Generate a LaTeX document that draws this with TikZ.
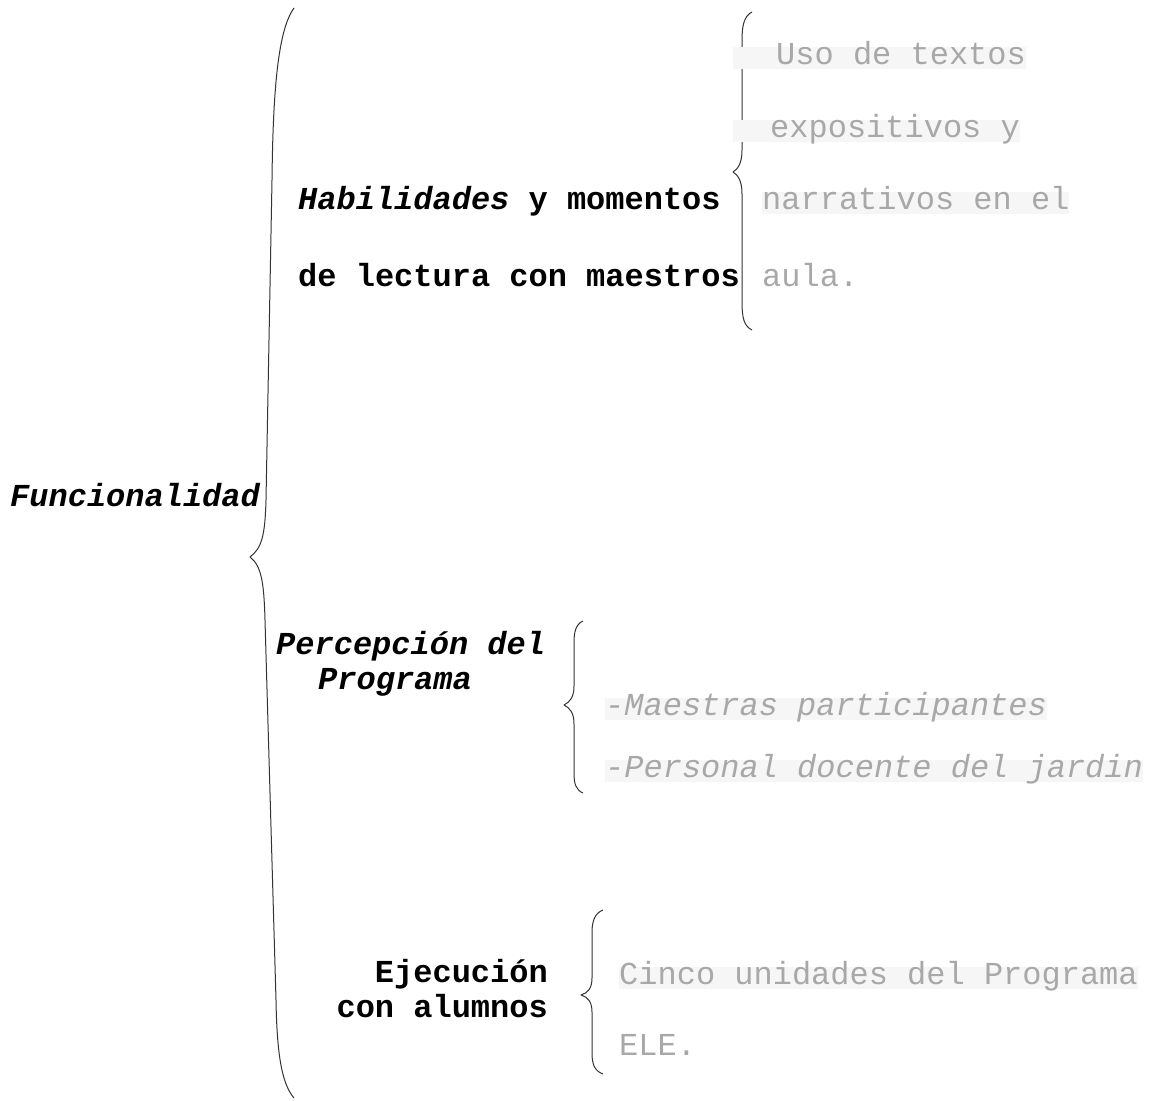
\documentclass[tikz,border=0pt]{standalone}
\usepackage{fontspec}
\setmainfont{Liberation Mono}
\definecolor{inkgray}{RGB}{168,168,168}
\definecolor{bandgray}{RGB}{246,246,246}
\begin{document}
\begin{tikzpicture}[x=1pt,y=-1pt,
  txt/.style={inner sep=0pt, font=\fontsize{32}{32}\selectfont},
  lbl/.style={txt, anchor=base west, font=\fontsize{32}{32}\selectfont\bfseries},
  lblr/.style={lbl, anchor=base east},
  sub/.style={txt, anchor=base west, text=inkgray, fill=bandgray,
              text height=17pt, text depth=5pt},
  subplain/.style={txt, anchor=base west, text=inkgray},
  brace/.style={draw=black!80, line width=1pt, line join=round}]
\useasboundingbox (0,0) rectangle (1156,1100);

% main brace
\draw[brace] (294,8) .. controls (278,30) and (273,90) .. (272,180)
  -- (266,500) .. controls (265,535) and (262,548) .. (250,557)
  .. controls (262,566) and (264,585) .. (265,620)
  -- (276,1000) .. controls (277,1060) and (283,1085) .. (294,1098);

% first group brace
\draw[brace] (752,12) .. controls (744,16) and (742,26) .. (742,40)
  -- (742,150) .. controls (742,163) and (738,169) .. (733,172)
  .. controls (738,175) and (742,181) .. (742,194)
  -- (742,302) .. controls (742,318) and (744,326) .. (752,330);

% second group brace
\draw[brace] (583,621) .. controls (576,624) and (574,632) .. (574,642)
  -- (574,686) .. controls (574,697) and (570,702) .. (564,705)
  .. controls (570,708) and (574,713) .. (574,724)
  -- (574,773) .. controls (574,784) and (576,790) .. (583,793);

% third group brace
\draw[brace] (603,910) .. controls (595,913) and (592,921) .. (592,932)
  -- (592,978) .. controls (592,988) and (588,993) .. (581,995)
  .. controls (588,997) and (592,1002) .. (592,1012)
  -- (592,1053) .. controls (592,1065) and (595,1071) .. (603,1074);

% root label
\node[lbl] (root) at (10,506) {\itshape Funcionalidad};

% first group
\node[lbl] (h1) at (298,209) {\textit{Habilidades} y momentos};
\node[lbl] (h2) at (298,286) {de lectura con maestros};
\node[sub] (u1) at (733,64) {\hspace*{43pt}Uso de textos};
\node[sub] (u2) at (733,137) {\hspace*{37pt}expositivos y};
\node[sub] (u3) at (762,209) {narrativos en el};
\node[subplain] (u4) at (762,286) {aula.};

% second group
\node[lbl] (p1) at (276,654) {\itshape Percepción del};
\node[lbl] (p2) at (318,689) {\itshape Programa};
\node[sub] (m1) at (605,715) {\itshape -Maestras participantes};
\node[sub] (m2) at (605,777) {\itshape -Personal docente del jardin};

% third group
\node[lblr] (e1) at (548,982) {Ejecución};
\node[lblr] (e2) at (548,1017) {con alumnos};
\node[sub] (c1) at (619,984) {Cinco unidades del Programa};
\node[subplain] (c2) at (619,1055) {ELE.};
\end{tikzpicture}
\end{document}
